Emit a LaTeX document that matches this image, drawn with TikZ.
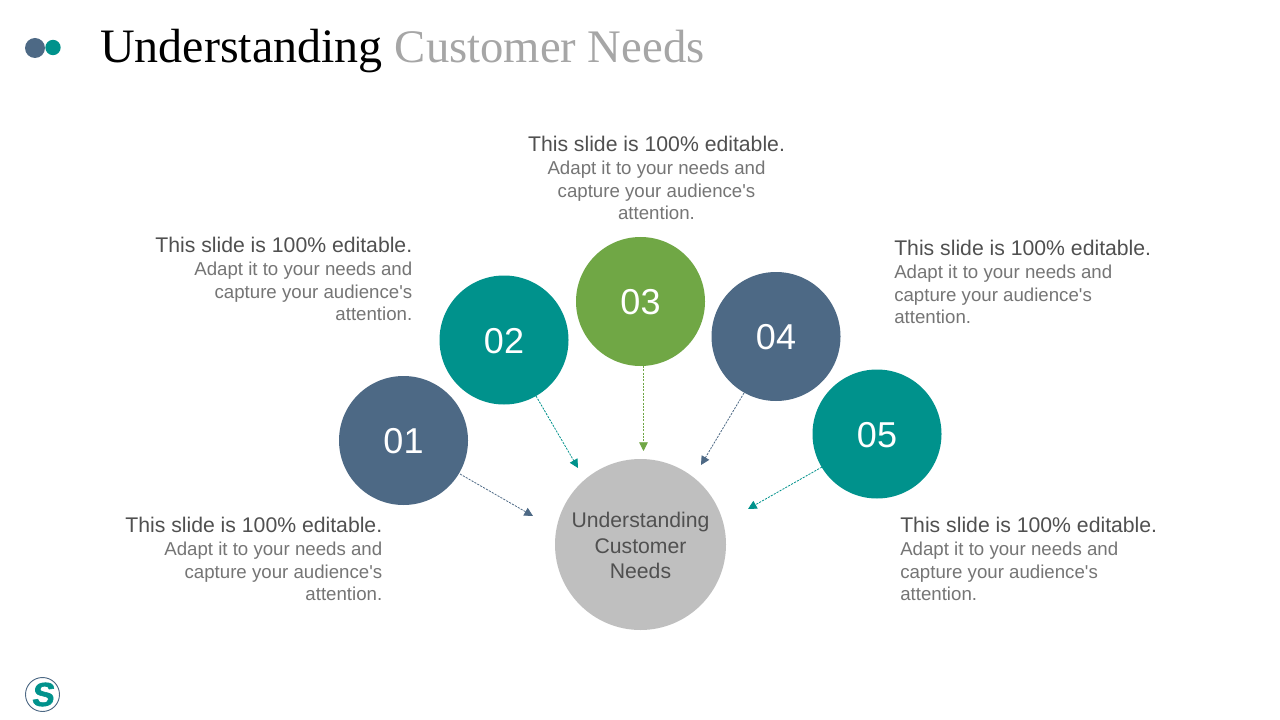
\documentclass[tikz,border=0pt]{standalone}
\usepackage{fontspec}
\setmainfont{Liberation Sans}
\newfontfamily\plainsans{Liberation Sans}
\newfontfamily\serifttl{Liberation Serif}
\newfontfamily\logofont[FakeSlant=0.12,FakeBold=1.8]{Liberation Sans Bold}
\usetikzlibrary{arrows.meta}
\definecolor{slateb}{HTML}{4D6985}
\definecolor{tealc}{HTML}{00928C}
\definecolor{greenc}{HTML}{70A745}
\definecolor{grayc}{HTML}{BFBFBF}
\definecolor{headt}{HTML}{505050}
\definecolor{bodyt}{HTML}{757575}
\definecolor{ttlgray}{HTML}{A6A6A6}
\tikzset{
  x=0.75pt,y=-0.75pt,
  num/.style={circle,minimum size=96.75pt,inner sep=0pt,text=white,font=\fontsize{27}{32}\selectfont},
  hub/.style={circle,fill=grayc,minimum size=128.25pt,inner sep=0pt,align=center,text=headt,font=\fontsize{15.9}{19}\selectfont},
  link/.style={dash pattern=on 1.6pt off 0.9pt,line width=0.6pt,-{Triangle[length=6.5pt,width=6.5pt]}},
  blockl/.style={anchor=north east,align=right,inner sep=0pt,text=bodyt,font=\plainsans\fontsize{14}{16.9}\selectfont},
  blockr/.style={anchor=north west,align=left,inner sep=0pt,text=bodyt,font=\plainsans\fontsize{14}{16.9}\selectfont},
  blockc/.style={anchor=north,align=center,inner sep=0pt,text=bodyt,font=\plainsans\fontsize{14}{16.9}\selectfont},
  dot/.style={circle,inner sep=0pt},
}
\newcommand{\hd}{{\fontsize{15.9}{17}\selectfont\color{headt}This slide is 100\% editable.}\\[0.8pt]}
\newcommand{\aud}{capture your audience's}
\newcommand{\nm}[1]{\raisebox{-0.6pt}[\height][\depth]{#1}}
\begin{document}
\begin{tikzpicture}
\path[use as bounding box] (0,0) rectangle (1280,720);
\fill[white] (0,0) rectangle (1280,720);
\node[dot,fill=slateb,minimum size=15pt] (d1) at (35,48) {};
\node[dot,fill=tealc,minimum size=11.5pt] (d2) at (53,47.5) {};
\node[anchor=west,inner sep=0pt,font=\serifttl\fontsize{36}{40}\selectfont] (title) at (100,51) {Understanding {\fontsize{35}{40}\selectfont\textcolor{ttlgray}{Customer Needs}}};

\node[hub] (hub) at (640.5,544.5) {\rule{0pt}{13pt}Understanding\\Customer\\Needs};
\node[num,fill=slateb] (n1) at (403.5,440.5) {\nm{01}};
\node[num,fill=tealc] (n2) at (504,340) {\nm{02}};
\node[num,fill=greenc] (n3) at (640.5,301.5) {\nm{03}};
\node[num,fill=slateb] (n4) at (776,336.5) {\nm{04}};
\node[num,fill=tealc] (n5) at (877,434) {\nm{05}};

\coordinate (e1) at (533,516);
\coordinate (e2) at (578,468);
\coordinate (e3) at (643.5,451);
\coordinate (e4) at (701,465);
\coordinate (e5) at (748,509);
\coordinate (s3) at (643.5,366);
\draw[link,slateb] (n1) ++(56.5,33.5) -- (e1);
\draw[link,tealc] (n2) ++(32,56) -- (e2);
\draw[link,greenc] (s3) -- (e3);
\draw[link,slateb] (n4) ++(-32,56.5) -- (e4);
\draw[link,tealc] (n5) ++(-55,33) -- (e5);

\node[blockc] (t3) at (656.5,135.5) {\hd Adapt it to your needs and\\\aud\\attention.};
\node[blockl] (t2) at (412.5,236.5) {\hd Adapt it to your needs and\\\aud\\attention.};
\node[blockl] (t1) at (382.5,516.5) {\hd Adapt it to your needs and\\\aud\\attention.};
\node[blockr] (t4) at (894,239.5) {\hd Adapt it to your needs and\\\aud\\attention.};
\node[blockr] (t5) at (900,516.5) {\hd Adapt it to your needs and\\\aud\\attention.};

\node[circle,draw=slateb,line width=0.7pt,fill=white,minimum size=25.5pt,inner sep=0pt,text=tealc,font=\logofont\fontsize{25}{25}\selectfont] (logo) at (42.5,694.5) {S};
\end{tikzpicture}
\end{document}
